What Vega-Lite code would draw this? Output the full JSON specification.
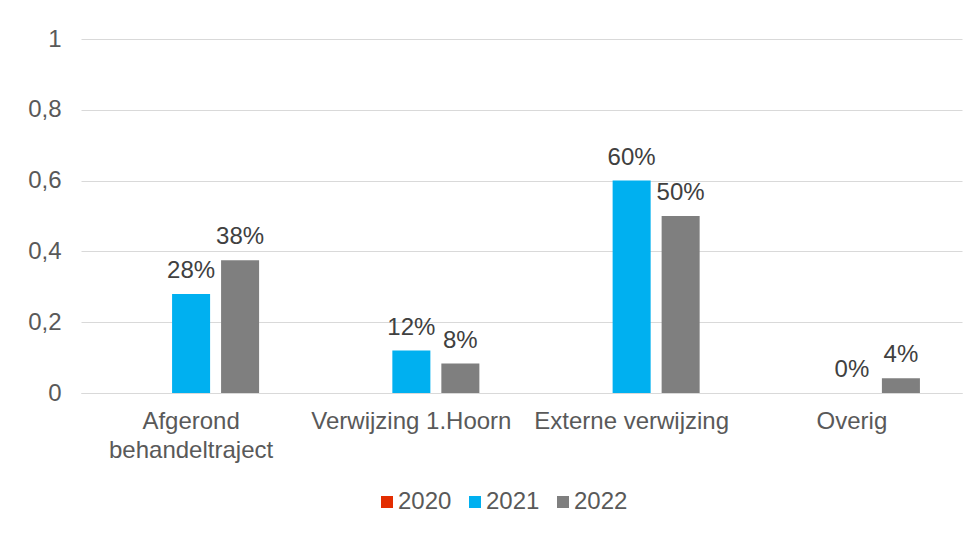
{
  "$schema": "https://vega.github.io/schema/vega-lite/v6.json",
  "width": 881,
  "height": 354,
  "autosize": {"type": "none"},
  "padding": {"left": 81, "top": 39, "right": 18, "bottom": 140},
  "background": "white",
  "data": {
    "values": [
      {"categorie": "Afgerond behandeltraject", "jaar": "2020", "waarde": null},
      {"categorie": "Afgerond behandeltraject", "jaar": "2021", "waarde": 0.28},
      {"categorie": "Afgerond behandeltraject", "jaar": "2022", "waarde": 0.375},
      {"categorie": "Verwijzing 1.Hoorn", "jaar": "2020", "waarde": null},
      {"categorie": "Verwijzing 1.Hoorn", "jaar": "2021", "waarde": 0.12},
      {"categorie": "Verwijzing 1.Hoorn", "jaar": "2022", "waarde": 0.083},
      {"categorie": "Externe verwijzing", "jaar": "2020", "waarde": null},
      {"categorie": "Externe verwijzing", "jaar": "2021", "waarde": 0.6},
      {"categorie": "Externe verwijzing", "jaar": "2022", "waarde": 0.5},
      {"categorie": "Overig", "jaar": "2020", "waarde": null},
      {"categorie": "Overig", "jaar": "2021", "waarde": 0},
      {"categorie": "Overig", "jaar": "2022", "waarde": 0.042}
    ]
  },
  "encoding": {
    "x": {
      "field": "categorie",
      "type": "nominal",
      "sort": null,
      "scale": {"paddingInner": 0.3825, "paddingOuter": 0.191},
      "axis": {
        "title": null,
        "labelAngle": 0,
        "ticks": false,
        "domain": true,
        "domainColor": "#d9d9d9",
        "domainWidth": 1,
        "labelPadding": 16,
        "labelFont": "Liberation Sans",
        "labelFontSize": 24,
        "labelColor": "#595959",
        "labelLineHeight": 29,
        "labelLimit": 0,
        "labelExpr": "datum.label == 'Afgerond behandeltraject' ? ['Afgerond', 'behandeltraject'] : datum.label"
      }
    },
    "xOffset": {
      "field": "jaar",
      "type": "nominal",
      "scale": {"domain": ["2020", "2021", "2022"], "paddingInner": 0.224, "paddingOuter": 0}
    },
    "y": {
      "field": "waarde",
      "type": "quantitative",
      "scale": {"domain": [0, 1]},
      "axis": {
        "title": null,
        "values": [0, 0.2, 0.4, 0.6, 0.8, 1],
        "domain": false,
        "ticks": false,
        "grid": true,
        "gridColor": "#d9d9d9",
        "gridWidth": 1,
        "labelPadding": 20,
        "labelFont": "Liberation Sans",
        "labelFontSize": 24,
        "labelColor": "#595959",
        "labelExpr": "replace(format(datum.value, '~g'), '.', ',')"
      }
    }
  },
  "layer": [
    {
      "mark": {"type": "bar"},
      "encoding": {
        "color": {
          "field": "jaar",
          "type": "nominal",
          "scale": {"domain": ["2020", "2021", "2022"], "range": ["#E32D00", "#00B0F0", "#7F7F7F"]},
          "legend": {
            "title": null,
            "orient": "none",
            "legendX": 294,
            "legendY": 451,
            "direction": "horizontal",
            "symbolType": "square",
            "symbolSize": 144,
            "symbolStrokeWidth": 0,
            "labelFont": "Liberation Sans",
            "labelFontSize": 24,
            "labelColor": "#595959",
            "labelOffset": -1,
            "columnPadding": 11
          }
        }
      }
    },
    {
      "transform": [{"filter": "datum.waarde != null"}],
      "mark": {
        "type": "text",
        "baseline": "alphabetic",
        "dy": -16,
        "font": "Liberation Sans",
        "fontSize": 24,
        "color": "#404040"
      },
      "encoding": {
        "text": {"field": "waarde", "type": "quantitative", "format": ".0%"}
      }
    }
  ],
  "config": {
    "view": {"stroke": null}
  }
}
